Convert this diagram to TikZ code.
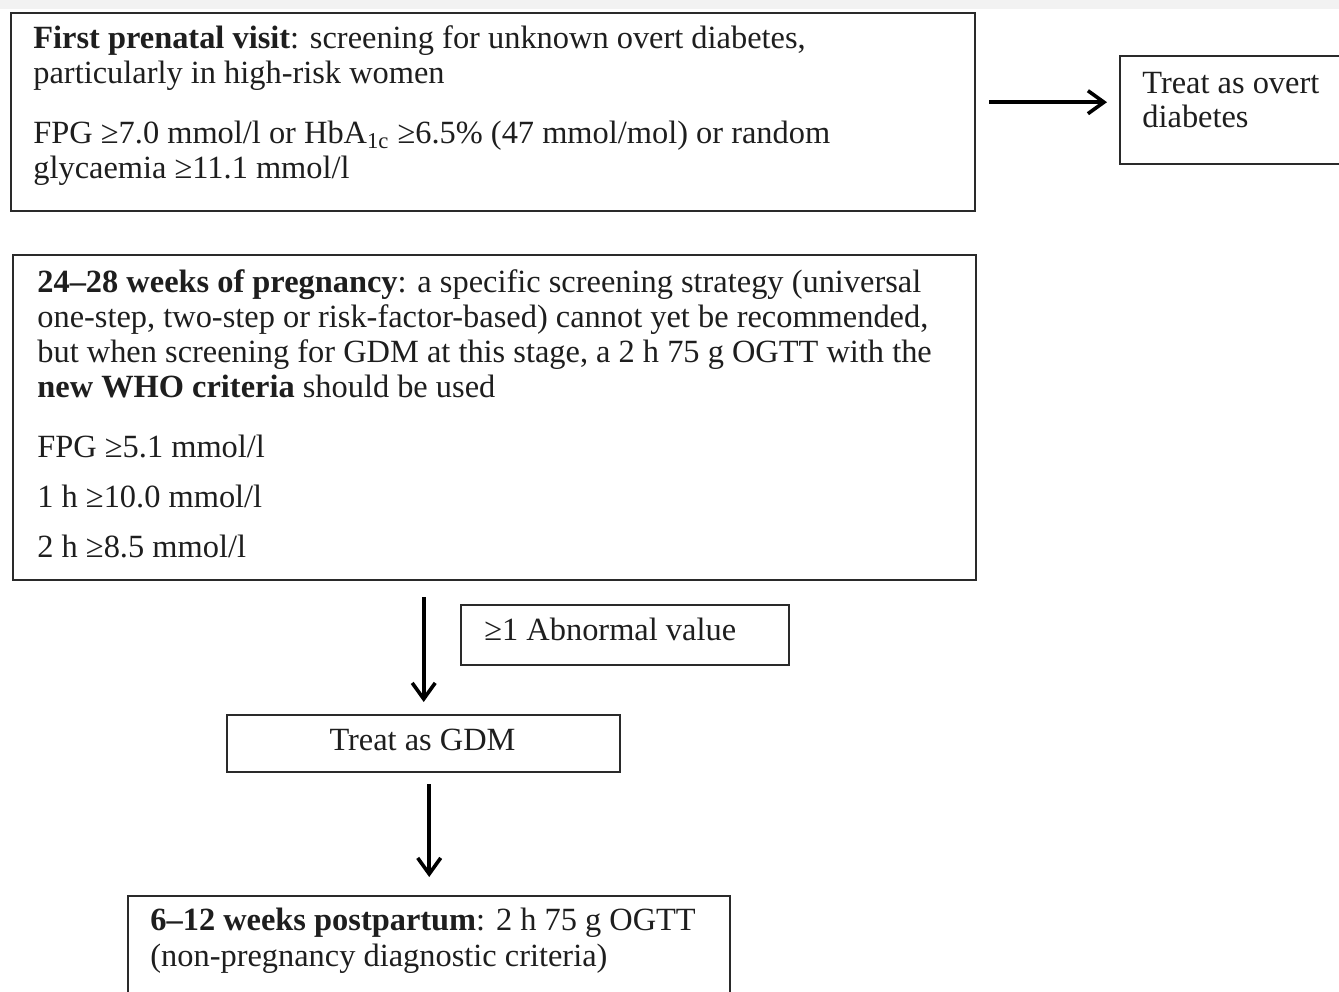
\documentclass[tikz,border=0pt]{standalone}
\usepackage{fontspec}
\setmainfont{Liberation Serif}
\usetikzlibrary{arrows.meta}
\definecolor{boxline}{HTML}{2A2A2A}
\definecolor{txtcol}{HTML}{1E1E1E}
\definecolor{band}{HTML}{F2F2F2}
\begin{document}
\begin{tikzpicture}[x=0.5pt,y=-0.5pt,
  box/.style={draw=boxline, line width=1.2pt, rectangle, inner sep=0pt, anchor=north west},
  txt/.style={anchor=base west, inner sep=0pt, align=left, text=txtcol,
     font=\fontsize{16.2pt}{17.5pt}\selectfont},
  arr/.style={draw=black, line width=1.8pt, -{Straight Barb[length=8pt,width=11.5pt,line width=1.8pt]}}]
\path[fill=white] (0,0) rectangle (1339,991);
\useasboundingbox (0,0) rectangle (1339,991);
\clip (0,0) rectangle (1339,991);
\fill[band] (0,0) rectangle (1339,9);

% boxes
\node[box, minimum width=482pt, minimum height=99pt] (b1) at (10,12) {};
\node[box, minimum width=150pt, minimum height=54pt] (ov) at (1119,55) {};
\node[box, minimum width=481.5pt, minimum height=162.5pt] (b3) at (12,254) {};
\node[box, minimum width=164pt, minimum height=30pt] (ab) at (460,604) {};
\node[box, minimum width=196.5pt, minimum height=28.5pt] (gdm) at (226,714) {};
\node[box, minimum width=301pt, minimum height=75pt] (pp) at (127,895) {};

% texts (multi-line nodes: base = last line's baseline)
\node[txt] (t1a) at (33,83) {\textbf{First prenatal visit}: screening for unknown overt diabetes,\\particularly in high-risk women};
\node[txt] (t1b) at (33,178) {FPG ≥7.0 mmol/l or HbA\textsubscript{1c} ≥6.5\% (47 mmol/mol) or random\\glycaemia ≥11.1 mmol/l};
\node[txt, font=\fontsize{16.2pt}{17pt}\selectfont] (tov) at (1142,127) {Treat as overt\\diabetes};
\node[txt] (t3a) at (37,397) {\textbf{24–28 weeks of pregnancy}: a specific screening strategy (universal\\one-step, two-step or risk-factor-based) cannot yet be recommended,\\but when screening for GDM at this stage, a 2 h 75 g OGTT with the\\\textbf{new WHO criteria} should be used};
\node[txt] (t3b) at (37,457) {FPG ≥5.1 mmol/l};
\node[txt] (t3c) at (37,507) {1 h ≥10.0 mmol/l};
\node[txt] (t3d) at (37,557) {2 h ≥8.5 mmol/l};
\node[txt] (tab) at (484,640) {≥1 Abnormal value};
\node[txt, anchor=base] (tgdm) at (422.5,750) {Treat as GDM};
\node[txt, font=\fontsize{16.2pt}{18pt}\selectfont] (tpp) at (150,966) {\textbf{6–12 weeks postpartum}: 2 h 75 g OGTT\\(non-pregnancy diagnostic criteria)};

% connectors
\draw[arr, shorten <=6.5pt, shorten >=6pt] ([yshift=5pt]b1.east) -- ([yshift=5pt]b1.east -| ov.west);
\draw[arr, shorten <=8pt, shorten >=6pt] (b3.south -| gdm.north) -- (gdm.north);
\draw[arr, shorten <=5.5pt, shorten >=9pt] (gdm.south -| pp.north) -- (pp.north);
\end{tikzpicture}
\end{document}
